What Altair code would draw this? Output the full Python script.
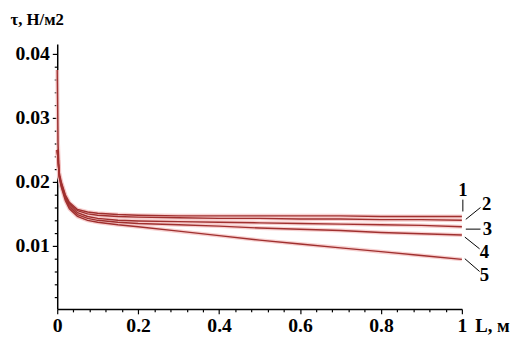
import altair as alt
import pandas as pd

# --- data -------------------------------------------------------------
x_vals = [0, 0.002, 0.005, 0.01, 0.02, 0.03, 0.05, 0.075, 0.1, 0.15, 0.2,
          0.3, 0.4, 0.5, 0.6, 0.7, 0.8, 0.9, 1.0]
curve_1 = [0.0375, 0.0260, 0.0215, 0.0200, 0.0180, 0.0168, 0.0157, 0.0153, 0.0151, 0.0149, 0.0148,
           0.0147, 0.0147, 0.0147, 0.0147, 0.0147, 0.0146, 0.0146, 0.0146]
curve_2 = [0.0250, 0.0235, 0.0210, 0.0198, 0.0178, 0.0166, 0.0155, 0.0150, 0.0148, 0.0146, 0.0145,
           0.0144, 0.0143, 0.0143, 0.0142, 0.0142, 0.0141, 0.0141, 0.0140]
curve_3 = [0.0250, 0.0235, 0.0210, 0.0196, 0.0176, 0.0164, 0.0152, 0.0146, 0.0143, 0.0140, 0.0139,
           0.0138, 0.0137, 0.0136, 0.0135, 0.0134, 0.0133, 0.0132, 0.0130]
curve_4 = [0.0250, 0.0235, 0.0208, 0.0194, 0.0174, 0.0161, 0.0149, 0.0143, 0.0140, 0.0137, 0.0135,
           0.0133, 0.0131, 0.0128, 0.0126, 0.0124, 0.0121, 0.0119, 0.0117]
curve_5 = [0.0250, 0.0235, 0.0207, 0.0192, 0.0171, 0.0158, 0.0146, 0.0140, 0.0137, 0.0133, 0.0130,
           0.0123, 0.0116, 0.0109, 0.0103, 0.0097, 0.0091, 0.0085, 0.0079]
series_names = ["1", "2", "3", "4", "5"]

# curve labels and their leader lines (data coordinates)
label_text = ["1", "2", "3", "4", "5"]
label_x = [1.0024, 1.061, 1.063, 1.056, 1.056]
label_y = [0.01877, 0.01646, 0.01262, 0.00908, 0.00538]
leader_x1 = [1.0024, 1.0097, 1.0097, 1.0073, 1.0073]
leader_y1 = [0.01538, 0.01415, 0.01262, 0.01138, 0.00800]
leader_x2 = [1.0024, 1.046, 1.046, 1.0438, 1.0438]
leader_y2 = [0.01723, 0.01600, 0.01262, 0.00954, 0.00600]

x_ticks = [round(0.04 * i, 2) for i in range(0, 26)]
y_ticks = [round(0.002 * i, 3) for i in range(1, 21)]

# --- tables -----------------------------------------------------------
rows = []
for name, ys in zip(series_names, [curve_1, curve_2, curve_3, curve_4, curve_5]):
    for xv, yv in zip(x_vals, ys):
        rows.append({"L": xv, "tau": yv, "curve": name})
df = pd.DataFrame(rows)
labels_df = pd.DataFrame({"text": label_text, "x": label_x, "y": label_y})
leaders_df = pd.DataFrame({"x": leader_x1, "y": leader_y1, "x2": leader_x2, "y2": leader_y2})

FONT = "Liberation Serif"

x_scale = alt.Scale(domain=[0, 1], nice=False, zero=False)
y_scale = alt.Scale(domain=[0.000154, 0.04154], nice=False, zero=False)

x_axis = alt.Axis(
    values=x_ticks,
    labelExpr="abs(datum.value*5 - round(datum.value*5)) < 0.001 ? toString(round(datum.value*10)/10) : ''",
    tickSize={"condition": {"test": "abs(datum.value*5 - round(datum.value*5)) < 0.001", "value": 5}, "value": 3},
    grid=False, labelFlush=False, labelOverlap=False, labelBound=False,
    labelFont=FONT, labelFontSize=20, labelFontWeight="bold", labelColor="black", labelPadding=2,
    domainColor="black", domainWidth=1.5, tickColor="black", tickWidth=1.2,
    title="L, м", titleFont=FONT, titleFontSize=19, titleFontWeight="bold", titleColor="black",
    titleX=424, titleY=17, titleAlign="left", titleBaseline="middle", titleAngle=0,
)
y_axis = alt.Axis(
    values=y_ticks,
    labelExpr="abs(datum.value*100 - round(datum.value*100)) < 0.001 ? format(datum.value, '.2f') : ''",
    tickSize={"condition": {"test": "abs(datum.value*100 - round(datum.value*100)) < 0.001", "value": 5}, "value": 3},
    grid=False, labelOverlap=False, labelFlush=False, labelBound=False,
    labelFont=FONT, labelFontSize=20, labelFontWeight="bold", labelColor="black", labelPadding=3,
    domainColor="black", domainWidth=1.5, tickColor="black", tickWidth=1.2,
    title="τ, Н/м2", titleFont=FONT, titleFontSize=17, titleFontWeight="bold", titleColor="black",
    titleX=-48, titleY=-25, titleAlign="left", titleBaseline="middle", titleAngle=0,
)

base = alt.Chart(df)
halo = base.mark_line(color="#f5c4c4", strokeWidth=4, opacity=0.8).encode(
    x=alt.X("L:Q", scale=x_scale, axis=x_axis),
    y=alt.Y("tau:Q", scale=y_scale, axis=y_axis),
    detail="curve:N",
)
lines = base.mark_line(color="#a0302f", strokeWidth=1.4).encode(
    x=alt.X("L:Q", scale=x_scale, axis=x_axis),
    y=alt.Y("tau:Q", scale=y_scale, axis=y_axis),
    detail="curve:N",
)
leaders = alt.Chart(leaders_df).mark_rule(color="black", strokeWidth=1).encode(
    x=alt.X("x:Q", scale=x_scale, axis=x_axis), y=alt.Y("y:Q", scale=y_scale, axis=y_axis),
    x2="x2:Q", y2="y2:Q",
)
texts = alt.Chart(labels_df).mark_text(
    font=FONT, fontSize=19, fontWeight="bold", color="black", align="center", baseline="middle"
).encode(
    x=alt.X("x:Q", scale=x_scale, axis=x_axis), y=alt.Y("y:Q", scale=y_scale, axis=y_axis),
    text="text:N",
)

chart = alt.layer(halo, lines, leaders, texts).properties(
    width=411, height=269,
    autosize=alt.AutoSizeParams(type="none"),
    padding={"left": 50, "top": 34, "right": 57, "bottom": 33},
    background="white",
).configure_view(stroke=None).configure_axis(labelOverlap=False)

chart.save("out.html", embed_options={"renderer": "svg", "actions": False})
